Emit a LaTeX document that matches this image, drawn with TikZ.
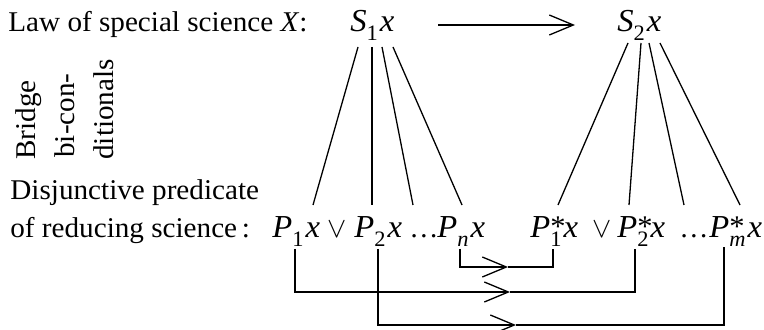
\documentclass[tikz,border=0pt]{standalone}
\usepackage{fontspec}
\setmainfont{Liberation Serif}[FakeStretch=1.02]
\usetikzlibrary{arrows.meta}
\newcommand\iv[1]{{\fontsize{16}{16}\selectfont\textit{#1}}}
\newcommand\lowsub[1]{\raisebox{-0.3em}{\fontsize{11}{11}\selectfont #1}}
\newcommand\astr{\rlap{\raisebox{0.05em}{\fontsize{15}{15}\selectfont *}}}
\newcommand\predS[1]{\iv{S}\lowsub{#1}\kern1pt\iv{x}}
\newcommand\predP[1]{\iv{P}\lowsub{#1}\kern1pt\iv{x}}
\newcommand\predPs[1]{\iv{P}\astr\lowsub{#1}\kern1pt\iv{x}}
\begin{document}
\begin{tikzpicture}[x=0.5pt,y=-0.5pt,
  txt/.style={inner sep=0pt, anchor=base west, font=\fontsize{14.3}{16}\selectfont},
  conn/.style={line width=0.65pt},
  arr/.style={conn, -{Straight Barb[length=12pt,width=10pt]}}]
\useasboundingbox (0,0) rectangle (764,330);
% top row
\node[txt] (law) at (8,32) {Law of special science {\textit{X}}:};
\node[txt] (S1) at (350,32) {\predS{1}};
\node[txt] (S2) at (617,32) {\predS{2}};
\coordinate (ta) at (438,25);
\coordinate (tb) at (575,25);
\draw[arr] (ta) -- (tb);
% rotated labels
\node[txt, rotate=90] (br1) at (35,160) {Bridge};
\node[txt, rotate=90] (br2) at (74,158) {bi-con-};
\node[txt, rotate=90] (br3) at (113,160) {ditionals};
% bottom row
\node[txt] (dis) at (10,200) {Disjunctive predicate};
\node[txt] (red) at (10,238) {of reducing science\,:};
\node[txt] (P1) at (272,238) {\predP{1}};
\node[txt] (or1) at (327,238) {$\vee$};
\node[txt] (P2) at (354,238) {\predP{2}};
\node[txt] (dots1) at (409,238) {\dots};
\node[txt] (Pn) at (437,238) {\iv{P}\lowsub{\textit{n}}\kern1pt\iv{x}};
\node[txt] (Q1) at (530,238) {\predPs{1}};
\node[txt] (or2) at (592,238) {$\vee$};
\node[txt] (Q2) at (617,238) {\predPs{2}};
\node[txt] (dots2) at (679,238) {\dots};
\node[txt] (Qm) at (709,238) {\iv{P}\astr\lowsub{\textit{m}}\kern1pt\iv{x}};
% bridge lines from S1
\coordinate (a1) at (358,47); \coordinate (b1) at (313,205);
\coordinate (a2) at (372,47); \coordinate (b2) at (372,205);
\coordinate (a3) at (382,47); \coordinate (b3) at (413,205);
\coordinate (a4) at (393,47); \coordinate (b4) at (462,205);
\foreach \i in {1,2,3,4} \draw[conn] (a\i) -- (b\i);
% bridge lines from S2
\coordinate (c1) at (628,43); \coordinate (d1) at (558,205);
\coordinate (c2) at (641,43); \coordinate (d2) at (629,205);
\coordinate (c3) at (649,43); \coordinate (d3) at (684,205);
\coordinate (c4) at (660,43); \coordinate (d4) at (740,205);
\foreach \i in {1,2,3,4} \draw[conn] (c\i) -- (d\i);
% bottom correspondence arrows
\coordinate (p1s) at (295,249);
\coordinate (p2s) at (378,249);
\coordinate (pns) at (460,249);
\coordinate (q1s) at (553,249);
\coordinate (q2s) at (635,249);
\coordinate (qms) at (724,247);
\coordinate (ha) at (508,267);
\coordinate (hb) at (510,292);
\coordinate (hc) at (516,325);
\draw[arr] (pns) |- (ha); \draw[conn] (ha) -| (q1s);
\draw[arr] (p1s) |- (hb); \draw[conn] (hb) -| (q2s);
\draw[arr] (p2s) |- (hc); \draw[conn] (hc) -| (qms);
\end{tikzpicture}
\end{document}
